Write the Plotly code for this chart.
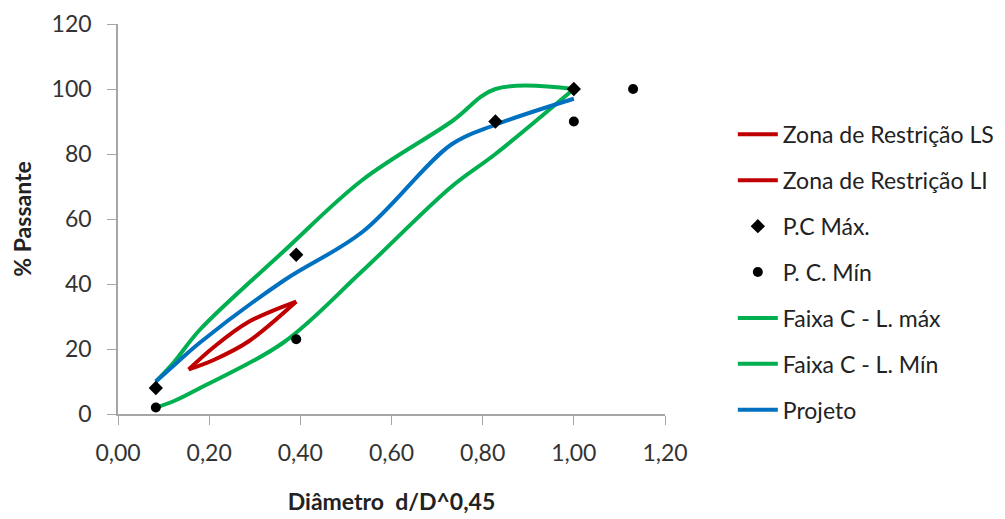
import plotly.graph_objects as go

# Data
faixa_x = [0.083, 0.123, 0.180, 0.363, 0.536, 0.732, 0.828, 1.000]
faixa_max = [10, 16, 26, 50, 72, 90, 100, 100]
faixa_min = [2, 4, 8, 22, 44, 70, 80, 100]
projeto = [10, 15, 22, 41, 56, 83, 89, 97]

zona_x = [0.155, 0.211, 0.286, 0.391]
zona_ls = [13.7, 20.7, 28.3, 34.6]
zona_li = [13.7, 16.7, 22.3, 34.6]

pc_max_x = [0.083, 0.391, 0.828, 1.000]
pc_max_y = [8, 49, 90, 100]
pc_min_x = [0.083, 0.391, 1.000, 1.130]
pc_min_y = [2, 23, 90, 100]

x_ticks = [0, 0.2, 0.4, 0.6, 0.8, 1.0, 1.2]
x_ticktext = ["0,00", "0,20", "0,40", "0,60", "0,80", "1,00", "1,20"]
y_ticks = [0, 20, 40, 60, 80, 100, 120]

RED = "#C00000"
GREEN = "#00B050"
BLUE = "#0070C0"
FONT = "Lato"

fig = go.Figure()

def line_trace(x, y, name, color, rank):
    return go.Scatter(x=x, y=y, name=name, mode="lines",
                      line=dict(color=color, width=4, shape="spline", smoothing=1),
                      legendrank=rank, legendgroup=name)

fig.add_trace(line_trace(faixa_x, faixa_max, "Faixa C - L. máx", GREEN, 5))
fig.add_trace(line_trace(faixa_x, faixa_min, "Faixa C - L. Mín", GREEN, 6))
fig.add_trace(line_trace(zona_x, zona_ls, "Zona de Restrição LS", RED, 1))
fig.add_trace(line_trace(zona_x, zona_li, "Zona de Restrição LI", RED, 2))
fig.add_trace(line_trace(faixa_x, projeto, "Projeto", BLUE, 7))
fig.add_trace(go.Scatter(x=pc_max_x, y=pc_max_y, name="P.C Máx.", mode="markers",
                         marker=dict(symbol="diamond", size=11, color="black"),
                         legendrank=3, legendgroup="P.C Máx."))
fig.add_trace(go.Scatter(x=pc_min_x, y=pc_min_y, name="P. C. Mín", mode="markers",
                         marker=dict(symbol="circle", size=10, color="black"),
                         legendrank=4, legendgroup="P. C. Mín"))

axis_common = dict(showgrid=False, zeroline=False, showline=True, linecolor="#A6A6A6",
                   linewidth=1.5, ticks="outside", tickcolor="#A6A6A6", ticklen=9,
                   automargin=False, ticklabeloverflow="allow",
                   tickfont=dict(family=FONT, size=23, color="#333333"))

fig.update_xaxes(range=[0, 1.2], tickvals=x_ticks, ticktext=x_ticktext,
                 ticklabelstandoff=9,
                 title=dict(text="<b>Diâmetro  d/D^0,45</b>", font=dict(family=FONT, size=23, color="#222222"),
                            standoff=29),
                 **axis_common)
fig.update_yaxes(range=[0, 120], tickvals=y_ticks,
                 ticklabelstandoff=11,
                 title=dict(text="<b>% Passante</b>", font=dict(family=FONT, size=23, color="#222222"),
                            standoff=21),
                 **axis_common)

fig.update_layout(
    width=1005, height=519,
    margin=dict(l=110, r=348, t=16, b=113),
    plot_bgcolor="white", paper_bgcolor="white",
    legend=dict(x=1.124, y=0.772, xanchor="left", yanchor="top",
                font=dict(family=FONT, size=23, color="#222222"),
                tracegroupgap=13, itemwidth=40, bgcolor="rgba(0,0,0,0)"),
)

fig.write_html("out.html")
